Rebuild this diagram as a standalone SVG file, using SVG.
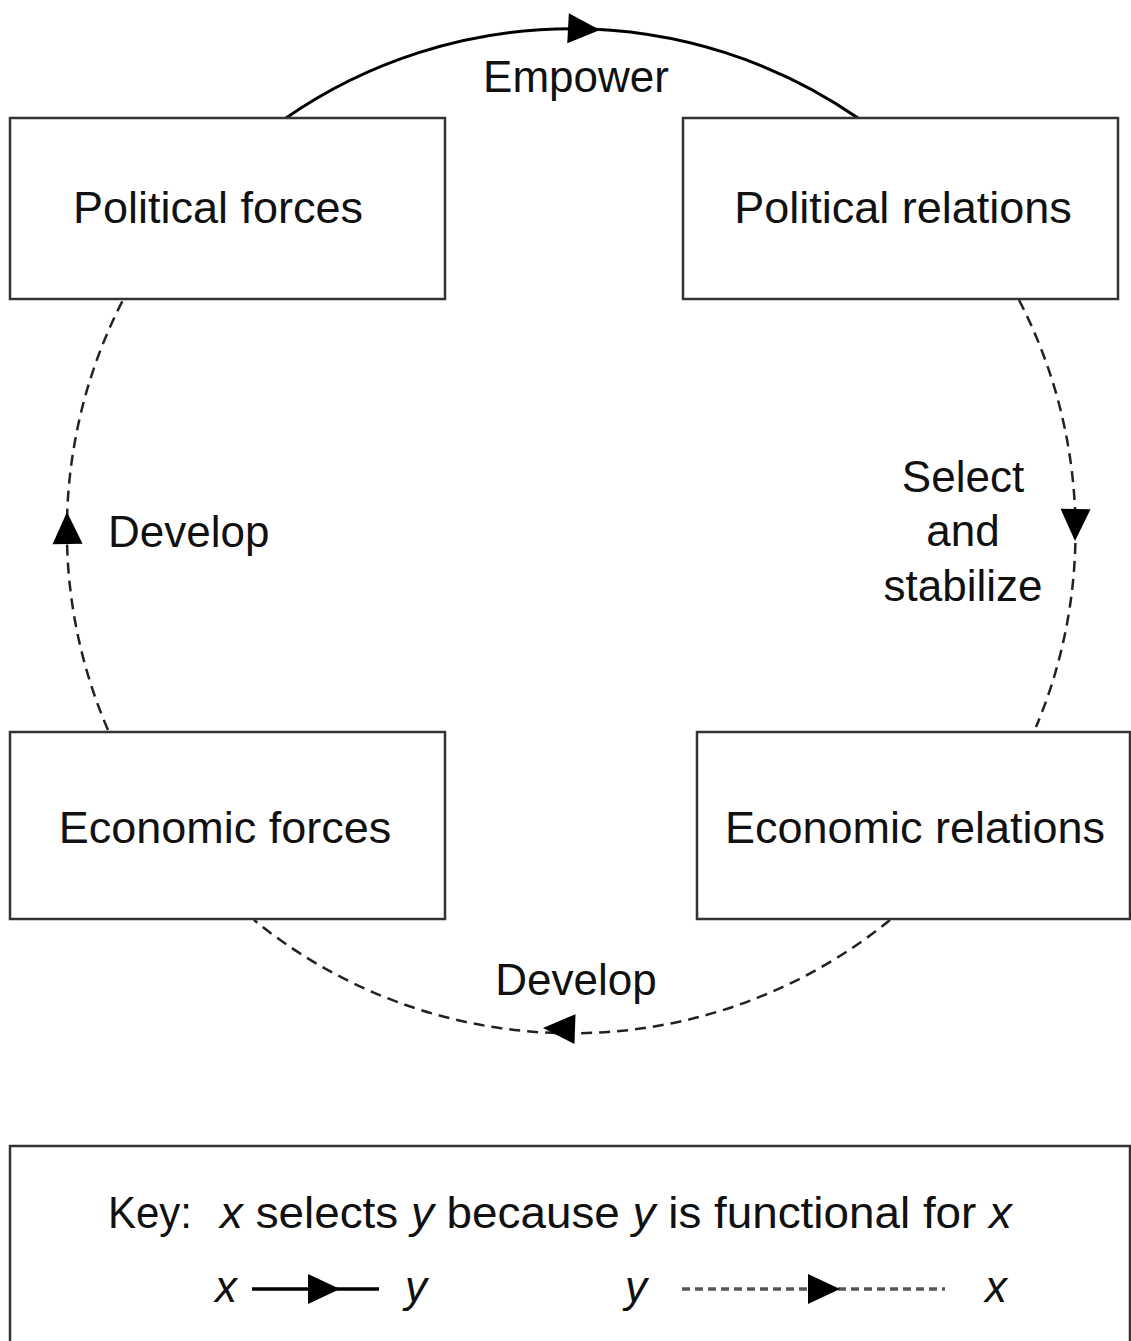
<svg xmlns="http://www.w3.org/2000/svg" xmlns:xlink="http://www.w3.org/1999/xlink" width="1131" height="1341" viewBox="0 0 1131 1341">
<style>
.box{fill:#fff;stroke:#333;stroke-width:2.5}
.lbl{font-family:"Liberation Sans",Arial,sans-serif;font-size:45px;fill:#111;text-anchor:middle}
.edge{font-family:"Liberation Sans",Arial,sans-serif;font-size:44px;fill:#111}
.solid{fill:none;stroke:#000;stroke-width:3}
.dash{fill:none;stroke:#222;stroke-width:2.5;stroke-dasharray:11 7}
.key{font-family:"Liberation Sans",Arial,sans-serif;font-size:44px;fill:#111}
</style>
<defs>
<path id="ah" d="M0,0 L-32,-15 L-32,15 Z" fill="#000"/>
</defs>
<rect width="1131" height="1341" fill="#fff"/>
<g id="connectors">
<path class="solid" d="M286,118 A503,503 0 0 1 858,118"/>
<use xlink:href="#ah" transform="translate(600,30) rotate(3)"/>
<path class="dash" d="M1019,300 A503,503 0 0 1 1036,727"/>
<use xlink:href="#ah" transform="translate(1075,541) rotate(91)"/>
<path class="dash" d="M890,920 A503,503 0 0 1 254,920"/>
<use xlink:href="#ah" transform="translate(543,1028) rotate(182)"/>
<path class="dash" d="M108,730 A503,503 0 0 1 123,300"/>
<use xlink:href="#ah" transform="translate(67,512) rotate(-91)"/>
<text class="edge" x="576" y="92" text-anchor="middle">Empower</text>
<text class="edge" x="963" y="492" text-anchor="middle">Select</text>
<text class="edge" x="963" y="546" text-anchor="middle">and</text>
<text class="edge" x="963" y="601" text-anchor="middle">stabilize</text>
<text class="edge" x="108" y="547">Develop</text>
<text class="edge" x="576" y="995" text-anchor="middle">Develop</text>
</g>
<g id="political-forces">
<rect class="box" x="10" y="118" width="435" height="181"/>
<text class="lbl" x="218" y="223">Political forces</text>
</g>
<g id="political-relations">
<rect class="box" x="683" y="118" width="435" height="181"/>
<text class="lbl" x="903" y="223">Political relations</text>
</g>
<g id="economic-forces">
<rect class="box" x="10" y="732" width="435" height="187"/>
<text class="lbl" x="225" y="843">Economic forces</text>
</g>
<g id="economic-relations">
<rect class="box" x="697" y="732" width="433" height="187"/>
<text class="lbl" x="915" y="843">Economic relations</text>
</g>
<g id="key">
<rect class="box" x="10" y="1146" width="1120" height="210"/>
<text class="key" x="108" y="1228" textLength="84" lengthAdjust="spacingAndGlyphs">Key:</text>
<text class="key" x="220" y="1228" textLength="792" lengthAdjust="spacingAndGlyphs"><tspan font-style="italic">x</tspan> selects <tspan font-style="italic">y</tspan> because <tspan font-style="italic">y</tspan> is functional for <tspan font-style="italic">x</tspan></text>
<text class="key" x="215" y="1302" font-style="italic">x</text>
<line x1="252" y1="1289" x2="379" y2="1289" stroke="#000" stroke-width="3.5"/>
<use xlink:href="#ah" transform="translate(340,1289)"/>
<text class="key" x="405" y="1302" font-style="italic">y</text>
<text class="key" x="625" y="1302" font-style="italic">y</text>
<line x1="682" y1="1289" x2="945" y2="1289" stroke="#555" stroke-width="3.5" stroke-dasharray="8 5"/>
<use xlink:href="#ah" transform="translate(840,1289)"/>
<text class="key" x="985" y="1302" font-style="italic">x</text>
</g>
</svg>
